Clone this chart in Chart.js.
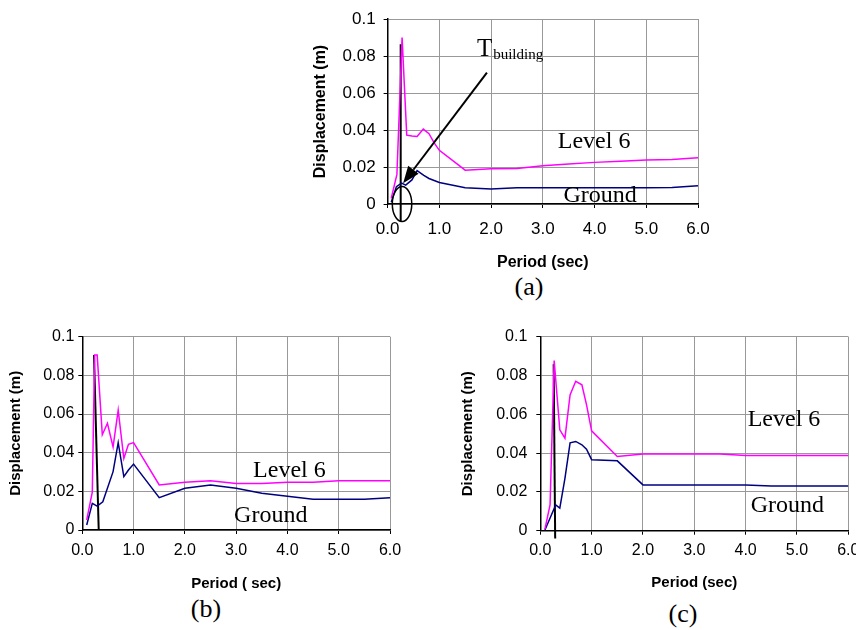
<!DOCTYPE html>
<html>
<head>
<meta charset="utf-8">
<script src="https://cdn.jsdelivr.net/npm/chart.js@4.4.1/dist/chart.umd.min.js"></script>
<style>
  body { margin: 0; background: #fff; width: 856px; height: 630px; position: relative; overflow: hidden; }
  canvas { position: absolute; }
  .cap { position: absolute; font: 26px "Liberation Serif", "Times New Roman", serif; line-height: 24px; transform: translateX(-50%); }
</style>
</head>
<body>
<canvas id="chartA" width="420" height="272" style="left:300px;top:0px"></canvas>
<canvas id="chartB" width="420" height="273" style="left:0px;top:320px"></canvas>
<canvas id="chartC" width="426" height="272" style="left:430px;top:320px"></canvas>
<div class="cap" style="left:529px;top:275px">(a)</div>
<div class="cap" style="left:206px;top:597px">(b)</div>
<div class="cap" style="left:683px;top:602px">(c)</div>

<script>
const xTickLabels = ['0.0', '1.0', '2.0', '3.0', '4.0', '5.0', '6.0'];
const yTickLabels = ['0', '0.02', '0.04', '0.06', '0.08', '0.1'];

// (a)
const periodA6 = [0.07, 0.18, 0.28, 0.37, 0.47, 0.57, 0.69, 0.80, 0.90, 1.0, 1.5, 2.0, 2.5, 3.0, 3.5, 4.0, 4.5, 5.0, 5.5, 6.0];
const level6A  = [0.003, 0.016, 0.090, 0.0372, 0.0367, 0.0365, 0.0405, 0.038, 0.033, 0.029, 0.0183, 0.019, 0.0192, 0.0207, 0.0216, 0.0225, 0.0231, 0.0238, 0.024, 0.025];
const periodAG = [0.07, 0.17, 0.27, 0.35, 0.47, 0.57, 0.70, 0.80, 1.0, 1.5, 2.0, 2.5, 3.0, 3.5, 4.0, 4.5, 5.0, 5.5, 6.0];
const groundA  = [0.0009, 0.0094, 0.0113, 0.0102, 0.013, 0.018, 0.0155, 0.0138, 0.0116, 0.0088, 0.0081, 0.0088, 0.0088, 0.0088, 0.0088, 0.0088, 0.0088, 0.0089, 0.0099];
const markAX = [0.253, 0.253];
const markAY = [0.0863, -0.0092];

// (b)
const periodB  = [0.086, 0.195, 0.24, 0.29, 0.39, 0.49, 0.60, 0.70, 0.81, 0.90, 1.0, 1.5, 2.0, 2.5, 3.0, 3.5, 4.0, 4.5, 5.0, 5.5, 6.0];
const level6B  = [0.0052, 0.0196, 0.0905, 0.0905, 0.0493, 0.0552, 0.043, 0.062, 0.037, 0.0443, 0.0452, 0.0233, 0.0247, 0.0255, 0.024, 0.024, 0.0247, 0.0247, 0.0255, 0.0255, 0.0255];
const periodBG = [0.086, 0.195, 0.29, 0.40, 0.60, 0.70, 0.81, 0.90, 1.0, 1.5, 2.0, 2.5, 3.0, 3.5, 4.0, 4.5, 5.0, 5.5, 6.0];
const groundB  = [0.0026, 0.0138, 0.0124, 0.0146, 0.0302, 0.0452, 0.0276, 0.031, 0.0341, 0.0167, 0.0216, 0.0233, 0.0216, 0.019, 0.0174, 0.0159, 0.0159, 0.0159, 0.0167];
const markBX = [0.228, 0.32];
const markBY = [0.0905, 0.0];

// (c)
const periodC6 = [0.09, 0.19, 0.27, 0.38, 0.48, 0.58, 0.69, 0.81, 0.90, 1.0, 1.5, 2.0, 2.5, 3.0, 3.5, 4.0, 4.5, 5.0, 5.5, 6.0];
const level6C  = [0.0008, 0.0133, 0.0877, 0.052, 0.0477, 0.070, 0.077, 0.0752, 0.065, 0.0515, 0.0382, 0.0395, 0.0395, 0.0395, 0.0395, 0.0387, 0.0387, 0.0387, 0.0387, 0.0387];
const periodCG = [0.09, 0.30, 0.38, 0.48, 0.58, 0.69, 0.81, 0.90, 1.0, 1.5, 2.0, 2.5, 3.0, 3.5, 4.0, 4.5, 5.0, 5.5, 6.0];
const groundC  = [0.0004, 0.0133, 0.0116, 0.027, 0.0453, 0.046, 0.0443, 0.042, 0.0366, 0.036, 0.0236, 0.0236, 0.0236, 0.0236, 0.0236, 0.023, 0.023, 0.023, 0.023];
const markCX = [0.26, 0.29];
const markCY = [0.0858, -0.004];

const zip = (xs, ys) => xs.map((x, i) => ({ x: x, y: ys[i] }));

// text, ellipse and arrow drawn in data units through the chart scales
const notesPlugin = {
  id: 'notes',
  afterDatasetsDraw(chart, args, opts) {
    const { ctx } = chart;
    const sx = chart.scales.x, sy = chart.scales.y;
    ctx.save();
    ctx.fillStyle = '#000';
    ctx.strokeStyle = '#000';
    ctx.textBaseline = 'alphabetic';
    (opts.texts || []).forEach(t => {
      ctx.font = t.font;
      ctx.fillText(t.text, sx.getPixelForValue(t.x), sy.getPixelForValue(t.y));
    });
    if (opts.ellipse) {
      const e = opts.ellipse;
      const cx = sx.getPixelForValue(e.x), cy = sy.getPixelForValue(e.y);
      const rx = sx.getPixelForValue(e.x + e.rx) - cx;
      const ry = cy - sy.getPixelForValue(e.y + e.ry);
      ctx.lineWidth = 1.5;
      ctx.beginPath();
      ctx.ellipse(cx, cy, rx, ry, 0, 0, Math.PI * 2);
      ctx.stroke();
    }
    if (opts.arrow) {
      const a = opts.arrow;
      const x1 = sx.getPixelForValue(a.x1), y1 = sy.getPixelForValue(a.y1);
      const x2 = sx.getPixelForValue(a.x2), y2 = sy.getPixelForValue(a.y2);
      const ang = Math.atan2(y2 - y1, x2 - x1);
      const len = 17, half = 6.5;
      const bx = x2 - len * Math.cos(ang), by = y2 - len * Math.sin(ang);
      ctx.lineWidth = 2;
      ctx.beginPath();
      ctx.moveTo(x1, y1);
      ctx.lineTo(bx, by);
      ctx.stroke();
      ctx.beginPath();
      ctx.moveTo(x2, y2);
      ctx.lineTo(bx + half * Math.sin(ang), by - half * Math.cos(ang));
      ctx.lineTo(bx - half * Math.sin(ang), by + half * Math.cos(ang));
      ctx.closePath();
      ctx.fill();
    }
    ctx.restore();
  }
};

function makeChart(id, c) {
  const line = (data, color, width) => ({
    data: data, borderColor: color, backgroundColor: color, borderWidth: width,
    showLine: true, pointRadius: 0, tension: 0, fill: false
  });
  const mark = line(zip(c.markX, c.markY), '#000', 2);
  mark.clip = false;
  return new Chart(document.getElementById(id), {
    type: 'scatter',
    data: {
      datasets: [
        line(zip(c.p6, c.l6), '#ff00ff', 1.5),
        line(zip(c.pg, c.g), '#000080', 1.5),
        mark
      ]
    },
    options: {
      responsive: false,
      animation: false,
      layout: { padding: { left: 0, top: c.top, right: c.right, bottom: 0 } },
      plugins: { legend: { display: false }, tooltip: { enabled: false }, notes: c.notes || {} },
      scales: {
        x: {
          type: 'linear', min: 0, max: 6,
          afterFit: s => { s.height = c.xAxisH; s.paddingLeft = 0; s.paddingRight = 0; },
          ticks: {
            stepSize: 1, autoSkip: false, maxRotation: 0, padding: c.xPad, color: '#000',
            font: { family: '"Liberation Sans", Arial, sans-serif', size: c.tickSize },
            callback: v => xTickLabels[Math.round(v)]
          },
          grid: { color: '#999', lineWidth: 1, tickColor: '#000', tickLength: 4 },
          border: { color: '#000', width: 1.5 },
          title: {
            display: true, text: c.xTitle, color: '#000', padding: 0,
            font: { family: '"Liberation Sans", Arial, sans-serif', size: c.titleSize, weight: 'bold' }
          }
        },
        y: {
          min: 0, max: 0.1,
          afterFit: s => { s.width = c.yAxisW; s.paddingTop = 0; s.paddingBottom = 0; },
          ticks: {
            stepSize: 0.02, autoSkip: false, padding: c.yPad, color: '#000',
            font: { family: '"Liberation Sans", Arial, sans-serif', size: c.tickSize },
            callback: v => yTickLabels[Math.round(v / 0.02)]
          },
          grid: { color: '#999', lineWidth: 1, tickColor: '#000', tickLength: 4 },
          border: { color: '#000', width: 1.5 },
          title: {
            display: true, text: 'Displacement (m)', color: '#000', padding: { top: c.yTitlePad, bottom: 0 },
            font: { family: '"Liberation Sans", Arial, sans-serif', size: c.titleSize, weight: 'bold' }
          }
        }
      }
    },
    plugins: [notesPlugin]
  });
}

const serif = '"Liberation Serif", "Times New Roman", serif';

makeChart('chartA', {
  p6: periodA6, l6: level6A, pg: periodAG, g: groundA, markX: markAX, markY: markAY,
  top: 19, right: 22, xAxisH: 68, yAxisW: 87.6, xPad: 11, yPad: 8, yTitlePad: 11,
  tickSize: 17, titleSize: 16, xTitle: 'Period (sec)',
  notes: {
    texts: [
      { text: 'Level 6', x: 3.29, y: 0.0301, font: '24px ' + serif },
      { text: 'Ground', x: 3.40, y: 0.0012, font: '24px ' + serif },
      { text: 'T', x: 1.73, y: 0.080, font: '25px ' + serif },
      { text: 'building', x: 2.04, y: 0.0784, font: '15px ' + serif }
    ],
    ellipse: { x: 0.279, y: 0, rx: 0.188, ry: 0.0095 },
    arrow: { x1: 1.92, y1: 0.071, x2: 0.30, y2: 0.0112 }
  }
});

makeChart('chartB', {
  p6: periodB, l6: level6B, pg: periodBG, g: groundB, markX: markBX, markY: markBY,
  top: 16.7, right: 30, xAxisH: 63, yAxisW: 82.3, xPad: 7, yPad: 4, yTitlePad: 6.7,
  tickSize: 16, titleSize: 15, xTitle: 'Period ( sec)',
  notes: {
    texts: [
      { text: 'Level 6', x: 3.33, y: 0.0276, font: '24px ' + serif },
      { text: 'Ground', x: 2.96, y: 0.0043, font: '24px ' + serif }
    ]
  }
});

makeChart('chartC', {
  p6: periodC6, l6: level6C, pg: periodCG, g: groundC, markX: markCX, markY: markCY,
  top: 16.7, right: 7.7, xAxisH: 61.3, yAxisW: 110.3, xPad: 6, yPad: 9, yTitlePad: 29,
  tickSize: 16, titleSize: 15, xTitle: 'Period (sec)',
  notes: {
    texts: [
      { text: 'Level 6', x: 4.04, y: 0.054, font: '24px ' + serif },
      { text: 'Ground', x: 4.10, y: 0.0098, font: '24px ' + serif }
    ]
  }
});
</script>
</body>
</html>
